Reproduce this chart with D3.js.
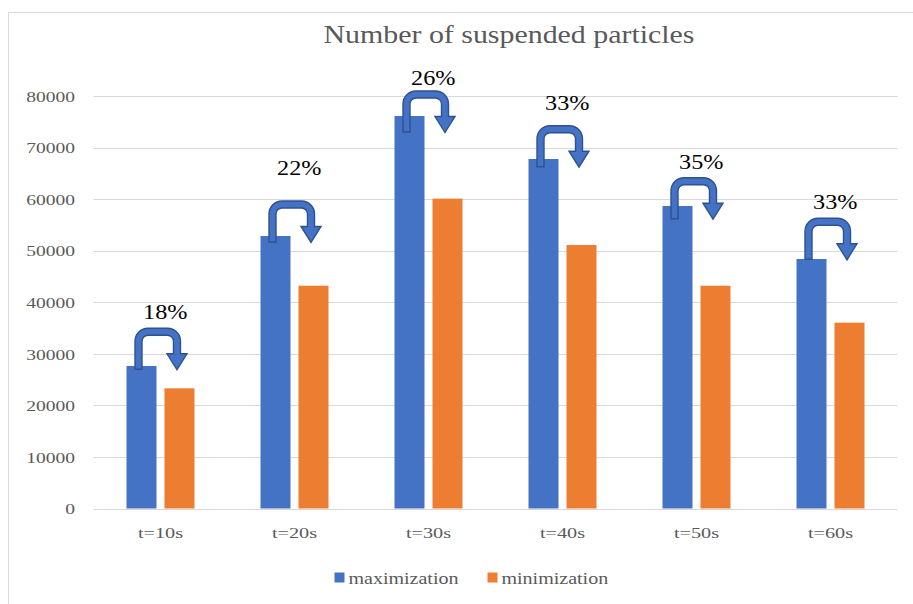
<!DOCTYPE html>
<html>
<head>
<meta charset="utf-8">
<script src="https://cdn.jsdelivr.net/npm/d3@7"></script>
<style>
  html, body { margin: 0; padding: 0; background: #ffffff; }
  svg { display: block; }
</style>
</head>
<body>
<svg id="chart" width="913" height="604"></svg>
<script>
// Particle counts per time step, for the two strategies
const categories = ["t=10s", "t=20s", "t=30s", "t=40s", "t=50s", "t=60s"];
const maximization = [27640, 52850, 76120, 67780, 58670, 48390];
const minimization = [23310, 43210, 60100, 51100, 43210, 36040];
const seriesNames = ["maximization", "minimization"];
const yTicks = [0, 10000, 20000, 30000, 40000, 50000, 60000, 70000, 80000];

// Reduction call-outs: percentage text, the level (in axis units) of each
// U-turn arrow's top and of each label's baseline
const reductionLabels = ["18%", "22%", "26%", "33%", "35%", "33%"];
const arrowLevel = [34950, 59640, 80970, 74240, 64160, 56280];
const labelLevel = [36690, 64680, 82140, 77290, 65850, 58090];

const colors = { maximization: "#4472C4", minimization: "#ED7D31" };
const arrowStroke = "#2F528F";
const SERIF = '"Liberation Serif", "Times New Roman", "DejaVu Serif", serif';

const svg = d3.select("#chart");
const W = 913, H = 604;
const plot = { left: 93.5, right: 897.5, top: 96, bottom: 508.5 };

// chart frame
svg.append("rect")
  .attr("x", 8.5).attr("y", 12.5)
  .attr("width", W + 20).attr("height", H + 20)
  .attr("fill", "#ffffff").attr("stroke", "#d9d9d9").attr("stroke-width", 1);

const y = d3.scaleLinear().domain([0, 80000]).range([plot.bottom, plot.top]);
const x0 = d3.scaleBand().domain(categories).range([plot.left, plot.right]).padding(0);
const groupW = 68;
const x1 = d3.scaleBand().domain(seriesNames)
  .range([x0.bandwidth() / 2 - groupW / 2, x0.bandwidth() / 2 + groupW / 2])
  .paddingInner(8 / 38).paddingOuter(0);

// helper for horizontally widened serif text
function label(g, str, xPos, yPos, size, sx, anchor, baseline, fill) {
  const t = g.append("text")
    .attr("transform", `translate(${xPos},${yPos}) scale(${sx},1)`)
    .style("font-family", SERIF)
    .style("font-size", size + "px")
    .style("fill", fill || "#595959")
    .attr("text-anchor", anchor)
    .text(str);
  if (baseline) t.attr("dy", baseline);
  return t;
}

// gridlines
svg.append("g").selectAll("line").data(yTicks).join("line")
  .attr("x1", plot.left).attr("x2", plot.right)
  .attr("y1", d => Math.round(y(d)) + 0.5).attr("y2", d => Math.round(y(d)) + 0.5)
  .attr("stroke", "#d9d9d9").attr("stroke-width", 1);

// y axis labels
const yAxis = d3.axisLeft(y).tickValues(yTicks).tickSize(0).tickFormat(d3.format("d"));
const yg = svg.append("g").attr("transform", `translate(${plot.left},0)`).call(yAxis);
yg.select(".domain").remove();
yg.selectAll(".tick text").remove();
yg.selectAll(".tick").each(function(d) {
  label(d3.select(this), d3.format("d")(d), 75 - plot.left, 0, 15, 1.3, "end", "0.35em");
});

// x axis labels
const xAxis = d3.axisBottom(x0).tickSize(0);
const xg = svg.append("g").attr("transform", `translate(0,${plot.bottom})`).call(xAxis);
xg.select(".domain").remove();
xg.selectAll(".tick text").remove();
xg.selectAll(".tick").each(function(d) {
  label(d3.select(this), d, 0, 29, 15, 1.35, "middle");
});

// bars
const rows = categories.map((c, i) => ({
  cat: c, i,
  values: [
    { key: "maximization", value: maximization[i] },
    { key: "minimization", value: minimization[i] }
  ]
}));

const groups = svg.append("g").selectAll("g").data(rows).join("g")
  .attr("transform", d => `translate(${x0(d.cat)},0)`);
groups.selectAll("rect").data(d => d.values).join("rect")
  .attr("x", d => x1(d.key))
  .attr("width", x1.bandwidth())
  .attr("y", d => y(d.value))
  .attr("height", d => y(0) - y(d.value))
  .attr("fill", d => colors[d.key]);

// U-turn arrows from the maximization bar to the minimization bar
function uTurnPath(xl, xr, yTop) {
  const h = 3.5, Ro = 13, Ri = Ro - 2 * h, hw = 10;
  const yTip = yTop + 41.5, yB = yTip - 0.5, yHead = yTip - 16;
  const p = d3.path();
  p.moveTo(xl - h, yB);
  p.lineTo(xl - h, yTop + Ro);
  p.arcTo(xl - h, yTop, xl - h + Ro, yTop, Ro);
  p.lineTo(xr + h - Ro, yTop);
  p.arcTo(xr + h, yTop, xr + h, yTop + Ro, Ro);
  p.lineTo(xr + h, yHead);
  p.lineTo(xr + hw, yHead);
  p.lineTo(xr, yTip);
  p.lineTo(xr - hw, yHead);
  p.lineTo(xr - h, yHead);
  p.lineTo(xr - h, yTop + Ro);
  p.arcTo(xr - h, yTop + 2 * h, xr - h - Ri, yTop + 2 * h, Ri);
  p.lineTo(xl + h + Ri, yTop + 2 * h);
  p.arcTo(xl + h, yTop + 2 * h, xl + h, yTop + Ro, Ri);
  p.lineTo(xl + h, yB);
  p.closePath();
  return p.toString();
}

const callouts = svg.append("g");
rows.forEach((r, i) => {
  const blueCenter = x0(r.cat) + x1("maximization") + x1.bandwidth() / 2;
  const xl = blueCenter - 3, xr = xl + 38.5;
  callouts.append("path")
    .attr("d", uTurnPath(xl, xr, y(arrowLevel[i])))
    .attr("fill", colors.maximization)
    .attr("stroke", arrowStroke)
    .attr("stroke-width", 1.4)
    .attr("stroke-linejoin", "miter");
  label(callouts, reductionLabels[i], (xl + xr) / 2 + 7.5, y(labelLevel[i]), 22, 1.1, "middle", null, "#000000");
});

// title
label(svg, "Number of suspended particles", 509, 43, 26, 1.15, "middle");

// legend
const legend = svg.append("g");
const legendX = [334.5, 487.5];
seriesNames.forEach((name, i) => {
  legend.append("rect")
    .attr("x", legendX[i]).attr("y", 572.5)
    .attr("width", 10).attr("height", 10)
    .attr("fill", colors[name]);
  label(legend, name, legendX[i] + 14, 584, 16, 1.25, "start");
});
</script>
</body>
</html>
